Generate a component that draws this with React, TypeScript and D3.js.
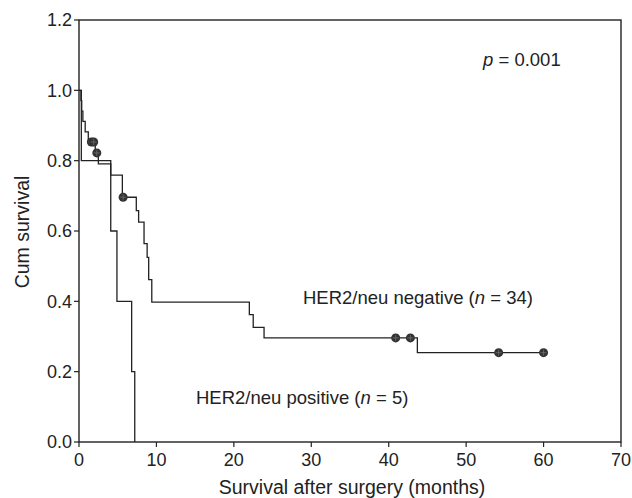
import React from "react";
import * as d3 from "d3";

// Kaplan–Meier data (months, survival after step)
const negEvents: [number, number][] = [
  [0.25, 0.971], [0.35, 0.941], [0.5, 0.912], [0.8, 0.882], [1.2, 0.853],
  [2.1, 0.822], [2.5, 0.791], [4.1, 0.759], [5.6, 0.696], [7.4, 0.658],
  [7.7, 0.625], [8.4, 0.564], [8.8, 0.525], [9.0, 0.462], [9.4, 0.398],
  [22.0, 0.362], [22.5, 0.326], [23.9, 0.296], [43.7, 0.254],
];
const negEnd = 60;
const negCensored: [number, number][] = [
  [1.6, 0.853], [1.9, 0.853], [2.3, 0.822], [5.7, 0.696],
  [40.9, 0.296], [42.8, 0.296], [54.2, 0.254], [60, 0.254],
];
const posEvents: [number, number][] = [
  [0.3, 0.8], [4.1, 0.6], [4.9, 0.4], [6.8, 0.2], [7.2, 0.0],
];
const xTicks = [0, 10, 20, 30, 40, 50, 60, 70];
const yTicks = [0, 0.2, 0.4, 0.6, 0.8, 1.0, 1.2];

const W = 632, H = 498;
const left = 79, right = 621, top = 20, bottom = 442;
const FONT = "Liberation Sans, Arial, sans-serif";

export default function App() {
  const x = d3.scaleLinear().domain([0, 70]).range([left, right]);
  const y = d3.scaleLinear().domain([0, 1.2]).range([bottom, top]);

  const stepPts = (events: [number, number][], end?: number) => {
    const pts: [number, number][] = [[0, 1.0]];
    events.forEach((e) => pts.push([e[0], e[1]]));
    if (end !== undefined) pts.push([end, events[events.length - 1][1]]);
    return pts;
  };
  const line = d3.line<[number, number]>()
    .x((d) => x(d[0]))
    .y((d) => y(d[1]))
    .curve(d3.curveStepAfter);

  const negPath = line(stepPts(negEvents, negEnd)) || "";
  const posPath = line(stepPts(posEvents)) || "";

  return (
    <svg width={W} height={H} style={{ position: "absolute", left: 0, top: 0 }} fontFamily={FONT}>
      <rect x={0} y={0} width={W} height={H} fill="#fff" />
      {/* frame */}
      <rect x={left} y={top} width={right - left} height={bottom - top} fill="none" stroke="#222" strokeWidth={1.4} />
      {/* y ticks */}
      {yTicks.map((t) => (
        <g key={"y" + t}>
          <line x1={left - 5} x2={left} y1={y(t)} y2={y(t)} stroke="#222" strokeWidth={1.2} />
          <text x={left - 7} y={y(t)} dy="0.35em" textAnchor="end" fontSize={18} fill="#222">
            {t.toFixed(1)}
          </text>
        </g>
      ))}
      {/* x ticks */}
      {xTicks.map((t) => (
        <g key={"x" + t}>
          <line x1={x(t)} x2={x(t)} y1={bottom} y2={bottom + 5} stroke="#222" strokeWidth={1.2} />
          <text x={x(t)} y={bottom + 24} textAnchor="middle" fontSize={18} fill="#222">
            {t}
          </text>
        </g>
      ))}
      <text x={352} y={494} textAnchor="middle" fontSize={19.5} fill="#222">
        Survival after surgery (months)
      </text>
      <text transform={`translate(29,${232}) rotate(-90)`} textAnchor="middle" fontSize={19.5} fill="#222">
        Cum survival
      </text>
      {/* curves */}
      <path d={posPath} fill="none" stroke="#222" strokeWidth={1.3} />
      <path d={negPath} fill="none" stroke="#222" strokeWidth={1.3} />
      {negCensored.map((c, i) => (
        <g key={"c" + i}>
          <circle cx={x(c[0])} cy={y(c[1])} r={4.5} fill="#333" />
          <line x1={x(c[0]) - 3} x2={x(c[0]) + 3} y1={y(c[1])} y2={y(c[1])} stroke="#777" strokeWidth={0.7} />
          <line x1={x(c[0])} x2={x(c[0])} y1={y(c[1]) - 3} y2={y(c[1]) + 3} stroke="#777" strokeWidth={0.7} />
        </g>
      ))}
      {/* annotations */}
      <text x={483} y={66} fontSize={18.5} fill="#222">
        <tspan fontStyle="italic">p</tspan> = 0.001
      </text>
      <text x={303} y={304} fontSize={18.5} fill="#222">
        HER2/neu negative (<tspan fontStyle="italic">n</tspan> = 34)
      </text>
      <text x={196} y={404} fontSize={18.5} fill="#222">
        HER2/neu positive (<tspan fontStyle="italic">n</tspan> = 5)
      </text>
    </svg>
  );
}
